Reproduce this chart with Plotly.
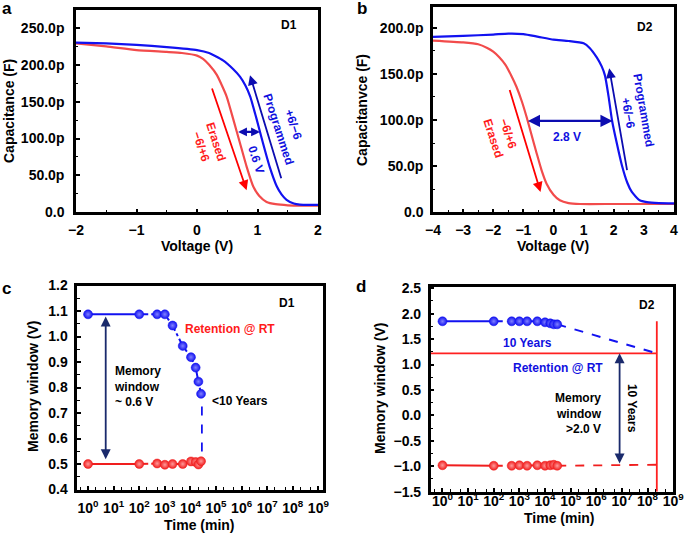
import plotly.graph_objects as go

# ---------------- data ----------------
# Panel a (D1) C-V curves, capacitance in pF
a_prog_v = [-2, -1.5, -1, -0.5, 0, 0.2, 0.43, 0.6, 0.71, 0.8, 0.88, 0.98, 1.09, 1.2, 1.32, 1.4, 1.48, 1.6, 1.7, 1.85, 2.0]
a_prog_c = [230, 229, 227, 224, 220, 216, 206, 194, 184, 172, 157, 128, 94, 62, 35, 24, 17, 12, 10.5, 10, 10]
a_erase_v = [-2, -1.5, -1, -0.5, -0.25, 0, 0.1, 0.2, 0.33, 0.49, 0.6, 0.71, 0.82, 0.93, 1.03, 1.15, 1.3, 1.5, 1.75, 2.0]
a_erase_c = [229, 225, 220, 217.5, 216, 212.5, 208, 200, 186, 157, 126, 94, 62, 35, 22, 14, 11, 9.5, 9, 9]

# Panel b (D2) C-V curves, capacitance in pF
b_prog_v = [-4, -3, -2, -1.5, -1, -0.5, 0, 0.5, 1, 1.2, 1.43, 1.6, 1.71, 1.83, 1.94, 2.1, 2.27, 2.45, 2.6, 2.86, 3.1, 3.5, 4]
b_prog_c = [190, 191, 192.5, 193.5, 193, 190, 187, 185.5, 183, 178, 168, 158, 148, 125, 100, 75, 51, 32, 22, 13, 11, 10, 9.7]
b_erase_v = [-4, -3, -2.5, -2.2, -2, -1.8, -1.6, -1.4, -1.23, -1.05, -0.9, -0.73, -0.56, -0.4, -0.23, 0, 0.21, 0.5, 0.88, 2, 4]
b_erase_c = [186, 184, 182, 178, 174, 168, 160, 148, 136, 120, 104, 84, 64, 46, 31, 19, 13, 10, 9, 9, 9]

# Panel c (D1) retention
c_time = [1, 100, 500, 1000, 2000, 5000, 1.05e4, 1.6e4, 2.05e4, 2.6e4]
c_prog = [1.087, 1.087, 1.087, 1.087, 1.043, 0.963, 0.919, 0.878, 0.823, 0.775]
c_erase = [0.5, 0.5, 0.502, 0.497, 0.5, 0.5, 0.51, 0.508, 0.498, 0.511]
c_drop_x = [2.8e4, 2.8e4]
c_drop_y = [0.725, 0.515]

# Panel d (D2) retention
d_time = [1, 100, 500, 1000, 2000, 5000, 1e4, 1.6e4, 2.2e4, 3e4]
d_prog = [1.85, 1.85, 1.85, 1.85, 1.85, 1.85, 1.83, 1.81, 1.79, 1.79]
d_erase = [-0.98, -0.99, -0.99, -0.98, -0.99, -0.98, -0.99, -0.98, -0.97, -0.99]
d_ten_years = 2.3e8
d_extrap_prog = [1.79, 1.22]
d_extrap_erase = [-0.99, -0.97]
d_limit = 1.22
d_vline_y = [-1.5, 1.85]

cap_ticks = [0, 50, 100, 150, 200, 250]
cap_labels = ["0.0", "50.0p", "100.0p", "150.0p", "200.0p", "250.0p"]
log_ticks = [10 ** k for k in range(10)]
log_labels = [f"10<sup>{k}</sup>" for k in range(10)]

# ---------------- style ----------------
FONT = "Liberation Sans, Arial, sans-serif"
RED_CURVE = "#f24b4b"
BLUE_CURVE = "#1212f0"
RED = "#ff1a1a"
BLUE = "#1010e0"
DARKBLUE = "#0c0cb0"
NAVY = "#1a2a6c"

W, H = 685, 536


def px(x):
    return x / W


def py(y):
    return 1 - y / H


fig = go.Figure()

# --- panel a
fig.add_trace(go.Scatter(x=a_erase_v, y=a_erase_c, mode="lines",
                         line=dict(color=RED_CURVE, width=2.2, shape="spline", smoothing=0.5),
                         xaxis="x", yaxis="y", showlegend=False))
fig.add_trace(go.Scatter(x=a_prog_v, y=a_prog_c, mode="lines",
                         line=dict(color=BLUE_CURVE, width=2.2, shape="spline", smoothing=0.5),
                         xaxis="x", yaxis="y", showlegend=False))
# --- panel b
fig.add_trace(go.Scatter(x=b_erase_v, y=b_erase_c, mode="lines",
                         line=dict(color=RED_CURVE, width=2.2, shape="spline", smoothing=0.5),
                         xaxis="x2", yaxis="y2", showlegend=False))
fig.add_trace(go.Scatter(x=b_prog_v, y=b_prog_c, mode="lines",
                         line=dict(color=BLUE_CURVE, width=2.2, shape="spline", smoothing=0.5),
                         xaxis="x2", yaxis="y2", showlegend=False))


def marker(color, tint):
    return dict(size=9, color=color, line=dict(color=color, width=0.5),
                gradient=dict(type="radial", color=tint))


# --- panel c
fig.add_trace(go.Scatter(x=c_drop_x, y=c_drop_y, mode="lines",
                         line=dict(color=BLUE_CURVE, width=1.8, dash="dash"),
                         xaxis="x3", yaxis="y3", showlegend=False))
for ys, col, tint in [(c_prog, BLUE_CURVE, "#8080ff"), (c_erase, "#f01e1e", "#ff9a9a")]:
    fig.add_trace(go.Scatter(x=c_time[:2], y=ys[:2], mode="lines",
                             line=dict(color=col, width=2),
                             xaxis="x3", yaxis="y3", showlegend=False))
    fig.add_trace(go.Scatter(x=c_time[1:], y=ys[1:], mode="lines",
                             line=dict(color=col, width=2, dash="dashdot"),
                             xaxis="x3", yaxis="y3", showlegend=False))
    fig.add_trace(go.Scatter(x=c_time, y=ys, mode="markers", marker=marker(col, tint),
                             xaxis="x3", yaxis="y3", showlegend=False))

# --- panel d
fig.add_trace(go.Scatter(x=[0.3, d_ten_years], y=[d_limit, d_limit], mode="lines",
                         line=dict(color="#ff2020", width=1.8),
                         xaxis="x4", yaxis="y4", showlegend=False))
fig.add_trace(go.Scatter(x=[d_ten_years, d_ten_years], y=d_vline_y, mode="lines",
                         line=dict(color="#ff2020", width=1.8),
                         xaxis="x4", yaxis="y4", showlegend=False))
fig.add_trace(go.Scatter(x=[d_time[-1], d_ten_years], y=d_extrap_prog, mode="lines",
                         line=dict(color=BLUE_CURVE, width=2, dash="dash"),
                         xaxis="x4", yaxis="y4", showlegend=False))
fig.add_trace(go.Scatter(x=[d_time[-1], d_ten_years], y=d_extrap_erase, mode="lines",
                         line=dict(color="#f01e1e", width=1.8, dash="dash"),
                         xaxis="x4", yaxis="y4", showlegend=False))
for ys, col, tint in [(d_prog, BLUE_CURVE, "#8080ff"), (d_erase, "#f01e1e", "#ff9a9a")]:
    fig.add_trace(go.Scatter(x=d_time[:2], y=ys[:2], mode="lines",
                             line=dict(color=col, width=2),
                             xaxis="x4", yaxis="y4", showlegend=False))
    fig.add_trace(go.Scatter(x=d_time[1:], y=ys[1:], mode="lines",
                             line=dict(color=col, width=2, dash="dash"),
                             xaxis="x4", yaxis="y4", showlegend=False))
    fig.add_trace(go.Scatter(x=d_time, y=ys, mode="markers", marker=marker(col, tint),
                             xaxis="x4", yaxis="y4", showlegend=False))

# ---------------- axes ----------------
tickfont = dict(family=FONT, size=14, color="black", weight="bold")


def ax(**kw):
    d = dict(showline=True, linecolor="black", linewidth=2.5, mirror=True,
             ticks="inside", ticklen=4, tickwidth=1.5, tickcolor="black",
             showgrid=False, zeroline=False, tickfont=tickfont, automargin=False)
    d.update(kw)
    return d


minor_in = lambda dt: dict(ticks="inside", ticklen=2.5, tickwidth=1.2, tickcolor="black", dtick=dt)
minor_log = dict(ticks="inside", ticklen=2.5, tickwidth=1.2, tickcolor="black", dtick="D2")

fig.update_layout(
    xaxis=ax(domain=[px(76), px(318)], range=[-2, 2], anchor="y", ticklabelstandoff=3,
             tickvals=[-2, -1, 0, 1, 2], ticktext=["\u22122", "\u22121", "0", "1", "2"], minor=minor_in(0.5)),
    yaxis=ax(domain=[py(212.3), py(9.5)], range=[0, 275], tickvals=cap_ticks, ticktext=cap_labels,
             anchor="x", ticklabelstandoff=6, minor=minor_in(25)),
    xaxis2=ax(domain=[px(433), px(674)], range=[-4, 4], anchor="y2", ticklabelstandoff=3,
              tickvals=[-4, -3, -2, -1, 0, 1, 2, 3, 4],
              ticktext=["\u22124", "\u22123", "\u22122", "\u22121", "0", "1", "2", "3", "4"], minor=minor_in(0.5)),
    yaxis2=ax(domain=[py(212.3), py(7.3)], range=[0, 222], tickvals=cap_ticks[:5], ticktext=cap_labels[:5],
              anchor="x2", ticklabelstandoff=4, minor=minor_in(25)),
    xaxis3=ax(domain=[px(77.3), px(323)], type="log", range=[-0.42, 9.18], anchor="y3",
              tickvals=log_ticks, ticktext=log_labels, ticklabelstandoff=4, minor=minor_log),
    yaxis3=ax(domain=[py(489.5), py(285.5)], range=[0.4, 1.2], dtick=0.1, tickformat=".1f", anchor="x3",
              ticklabelstandoff=4, minor=minor_in(0.05)),
    xaxis4=ax(domain=[px(430.7), px(673.3)], type="log", range=[-0.46, 9.005], anchor="y4",
              tickvals=log_ticks, ticktext=log_labels, ticklabelstandoff=-5, minor=minor_log),
    yaxis4=ax(domain=[py(491.7), py(286.7)], range=[-1.5, 2.53], anchor="x4",
              tickvals=[-1.5, -1, -0.5, 0, 0.5, 1, 1.5, 2, 2.5],
              ticktext=["\u22121.5", "\u22121.0", "\u22120.5", "0.0", "0.5", "1.0", "1.5", "2.0", "2.5"],
              ticklabelstandoff=4, minor=minor_in(0.25)),
)

# ---------------- annotations ----------------
ann = []


def txt(text, x, y, xref, yref, color="black", size=12, angle=0, xanchor="center", align="center"):
    ann.append(dict(text=text, x=x, y=y, xref=xref, yref=yref, showarrow=False, textangle=angle,
                    xanchor=xanchor, yanchor="middle", align=align,
                    font=dict(family=FONT, size=size, color=color, weight="bold")))


def arrow(x, y, axv, ayv, xref, yref, color, both=False, width=2, size=1.1):
    ann.append(dict(text="", x=x, y=y, ax=axv, ay=ayv, xref=xref, yref=yref, axref=xref, ayref=yref,
                    showarrow=True, arrowhead=2, arrowsize=size, arrowwidth=width, arrowcolor=color,
                    arrowside="end+start" if both else "end", standoff=0, startstandoff=0))


# panel letters
txt("a", px(7), py(8), "paper", "paper", size=17)
txt("b", px(362), py(9), "paper", "paper", size=17)
txt("c", px(6), py(288), "paper", "paper", size=17)
txt("d", px(361), py(286), "paper", "paper", size=17)

# axis titles
TS = 14
txt("Voltage (V)", px(197), py(246), "paper", "paper", size=TS)
txt("Voltage (V)", px(553), py(246), "paper", "paper", size=TS)
txt("Time (min)", px(199), py(525), "paper", "paper", size=TS)
txt("Time (min)", px(559), py(518), "paper", "paper", size=TS)
txt("Capacitance (F)", px(9), py(111), "paper", "paper", size=TS, angle=-90)
txt("Capacitanvce (F)", px(362), py(110), "paper", "paper", size=TS, angle=-90)
txt("Memory window (V)", px(33), py(387), "paper", "paper", size=TS, angle=-90)
txt("Memory window (V)", px(380), py(389), "paper", "paper", size=TS, angle=-90)

# panel a
txt("D1", 1.52, 254, "x", "y", size=12)
arrow(0.82, 30, 0.24, 170, "x", "y", "#ff0000", width=1.8)
arrow(0.876, 186, 1.40, 44, "x", "y", DARKBLUE, width=1.8)
arrow(1.04, 109, 0.655, 109, "x", "y", DARKBLUE, both=True, width=2.2, size=0.8)
txt("Erased<br>\u22126/+6", 0.19, 93, "x", "y", color=RED, angle=72)
txt("+6/\u22126<br>Programmed", 1.47, 116, "x", "y", color=BLUE, angle=72)
txt("0.6 V", 0.98, 71, "x", "y", color=BLUE, angle=72)

# panel b
txt("D2", 3.05, 201, "x2", "y2", size=12)
arrow(-0.43, 22, -1.47, 134, "x2", "y2", "#ff0000", width=1.8)
arrow(1.85, 156, 2.45, 44, "x2", "y2", DARKBLUE, width=1.8)
arrow(1.96, 99, -0.90, 99, "x2", "y2", DARKBLUE, both=True, width=2.2)
txt("\u22126/+6<br>Erased", -1.75, 83, "x2", "y2", color=RED, angle=72)
txt("Programmed<br>+6/\u22126", 2.74, 109, "x2", "y2", color=BLUE, angle=80)
txt("2.8 V", 0.45, 81, "x2", "y2", color=BLUE)

# panel c (log axis: positions in log10 units)
txt("D1", 7.77, 1.13, "x3", "y3")
txt("Retention @ RT", 5.56, 1.029, "x3", "y3", color=RED)
txt("Memory<br>window<br>~ 0.6 V", 0.95, 0.803, "x3", "y3", xanchor="left", align="left")
txt("<10 Years", 4.75, 0.747, "x3", "y3", xanchor="left")
arrow(0.69, 1.078, 0.69, 0.513, "x3", "y3", NAVY, both=True, width=1.8)

# panel d
txt("D2", 7.98, 2.17, "x4", "y4")
txt("10 Years", 3.33, 1.43, "x4", "y4", color=BLUE)
txt("Retention @ RT", 4.5, 0.94, "x4", "y4", color=BLUE)
txt("Memory<br>window<br>>2.0 V", 6.30, 0.04, "x4", "y4", xanchor="right", align="right")
txt("10 Years", 7.37, 0.14, "x4", "y4", angle=90)
arrow(6.91, 1.22, 6.91, -0.975, "x4", "y4", NAVY, both=True, width=1.8)

fig.update_layout(
    width=W, height=H, margin=dict(l=0, r=0, t=0, b=0, autoexpand=False),
    paper_bgcolor="white", plot_bgcolor="white",
    font=dict(family=FONT, color="black"),
    annotations=ann, showlegend=False,
)

fig.write_html("out.html", config={"displayModeBar": False},
               post_script="document.body.style.margin='0';document.body.style.overflow='hidden';")
